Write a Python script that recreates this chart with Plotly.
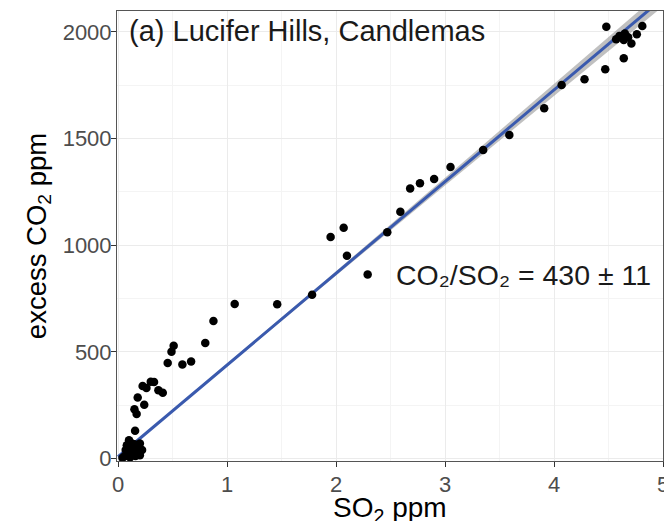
import plotly.graph_objects as go
import numpy as np

# ---- data ----
so2 = [4.48, 4.81, 4.57, 4.60, 4.65, 4.64, 4.71, 4.76, 4.68, 4.64, 4.47, 4.28, 4.07, 3.91,
       3.59, 3.35, 3.05, 2.90, 2.77, 2.68, 2.59, 2.47, 2.29, 2.10, 2.07, 1.95, 1.78, 1.46,
       1.07, 0.875, 0.80, 0.67, 0.59, 0.51, 0.49, 0.455, 0.41, 0.37, 0.33, 0.30, 0.26,
       0.225, 0.18, 0.24, 0.15, 0.17, 0.156,
       0.10, 0.08, 0.12, 0.15, 0.20, 0.22, 0.18, 0.13, 0.09, 0.06, 0.11, 0.16, 0.20,
       0.04, 0.14, 0.19, 0.07]
co2 = [2024, 2028, 1965, 1981, 1993, 1962, 1946, 1989, 1975, 1876, 1825, 1778, 1751, 1642,
       1517, 1446, 1366, 1310, 1290, 1266, 1157, 1061, 862, 950, 1082, 1038, 767, 723,
       724, 644, 541, 455, 440, 528, 500, 448, 308, 320, 358, 360, 330,
       340, 286, 252, 231, 208, 130,
       85, 62, 72, 66, 70, 40, 30, 36, 20, 10, 5, 12, 15,
       2, 50, 55, 40]

slope = 430
intercept = 8
fit_x = [0.0, 1.0, 2.0, 3.0, 4.0, 5.0]
band_half = [4, 6, 10, 18, 28, 38]

x_ticks = [0, 1, 2, 3, 4, 5]
y_ticks = [0, 500, 1000, 1500, 2000]

title_text = "(a) Lucifer Hills, Candlemas"
ratio_text = "CO\u2082/SO\u2082 = 430 \u00b1 11"
x_title = "SO<sub>2</sub> ppm"
y_title = "excess CO<sub>2</sub> ppm"

# ---- derived ----
fx = np.array(fit_x)
fy = intercept + slope * fx
upper = fy + np.array(band_half)
lower = fy - np.array(band_half)

FONT = "Liberation Sans, Arial, sans-serif"

fig = go.Figure()
fig.add_trace(go.Scatter(x=fit_x, y=lower, mode="lines", line=dict(width=0),
                         showlegend=False, hoverinfo="skip"))
fig.add_trace(go.Scatter(x=fit_x, y=upper, mode="lines", line=dict(width=0),
                         fill="tonexty", fillcolor="rgba(150,150,150,0.6)",
                         showlegend=False, hoverinfo="skip"))
fig.add_trace(go.Scatter(x=fit_x, y=fy, mode="lines",
                         line=dict(color="#3A5AAE", width=3), showlegend=False))
fig.add_trace(go.Scatter(x=so2, y=co2, mode="markers",
                         marker=dict(color="black", size=8.5, line=dict(width=0)),
                         showlegend=False))

fig.add_annotation(x=0.08, y=2002, xref="x", yref="y", text=title_text,
                   showarrow=False, xanchor="left", yanchor="middle",
                   font=dict(family=FONT, size=29, color="#1a1a1a"))
fig.add_annotation(x=2.53, y=860, xref="x", yref="y", text=ratio_text,
                   showarrow=False, xanchor="left", yanchor="middle",
                   font=dict(family=FONT, size=28.5, color="#1a1a1a"))
# x-axis title (placed as annotation so it can sit low in the margin)
fig.add_annotation(x=0.5, y=0, xref="paper", yref="paper", text=x_title,
                   showarrow=False, xanchor="center", yanchor="top", yshift=-29,
                   font=dict(family=FONT, size=28, color="black"))

axis_common = dict(
    showline=True, linecolor="#555555", linewidth=1, mirror=True,
    ticks="outside", ticklen=5, tickcolor="#333333", tickwidth=1,
    tickfont=dict(family=FONT, size=22, color="#4D4D4D"),
    ticklabeloverflow="allow",
    showgrid=True, gridcolor="#EBEBEB", gridwidth=1.2, zeroline=False,
)

fig.update_layout(
    width=664, height=521,
    margin=dict(l=117, r=1, t=11, b=60, autoexpand=False),
    paper_bgcolor="white", plot_bgcolor="white",
    font=dict(family=FONT),
    template="none",
    xaxis=dict(range=[-0.01, 5.0], tickvals=x_ticks, automargin=False,
               ticklabelstandoff=-1,
               minor=dict(dtick=0.5, showgrid=True, gridcolor="#F4F4F4", gridwidth=0.6, ticks=""),
               **axis_common),
    yaxis=dict(range=[-12, 2098], tickvals=y_ticks, automargin=False,
               ticklabelstandoff=-5,
               minor=dict(dtick=250, showgrid=True, gridcolor="#F4F4F4", gridwidth=0.6, ticks=""),
               title=dict(text=y_title, font=dict(family=FONT, size=27.5, color="black"),
                          standoff=8),
               **axis_common),
)

fig.write_html("out.html", config={"displayModeBar": False},
               post_script="document.body.style.margin='0px';")
